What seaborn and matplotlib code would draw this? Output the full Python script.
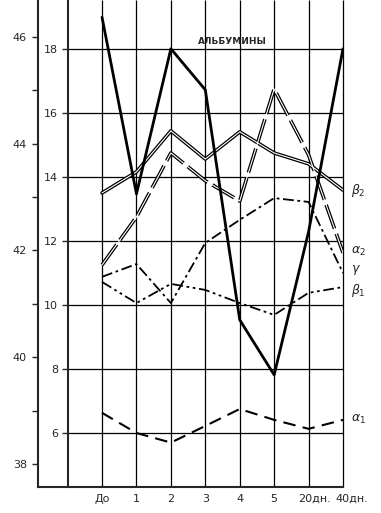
import numpy as np
import matplotlib
matplotlib.use("Agg")
import matplotlib.pyplot as plt
import matplotlib.transforms as mtransforms
import seaborn as sns

# ---- data ----
categories = ["До", "1", "2", "3", "4", "5", "20дн.", "40дн."]
albumin = [46.37, 43.06, 45.78, 45.01, 40.70, 39.67, 42.35, 45.78]   # outer (left) scale
beta2 = [13.50, 14.16, 15.44, 14.56, 15.41, 14.75, 14.41, 13.59]     # inner scale
alpha2 = [11.25, 12.75, 14.75, 13.88, 13.25, 16.75, 14.69, 11.63]
gamma = [10.88, 11.28, 10.06, 11.94, 12.66, 13.34, 13.22, 11.00]
beta1 = [10.72, 10.06, 10.66, 10.47, 10.06, 9.69, 10.38, 10.56]
alpha1 = [6.63, 6.00, 5.70, 6.22, 6.75, 6.41, 6.13, 6.41]
inner_ticks = [6, 8, 10, 12, 14, 16, 18]
outer_ticks = [38, 40, 42, 44, 46]
outer_minor = [39, 41, 43, 45]
series_labels = [r"$\beta_2$", r"$\alpha_2$", r"$\gamma$", r"$\beta_1$", r"$\alpha_1$"]
title = "АЛЬБУМИНЫ"

sns.set_style("white")
plt.rcParams["font.family"] = ["DejaVu Sans"]

W, H = 381, 513
fig = plt.figure(figsize=(W / 100, H / 100), dpi=100)
fig.patch.set_facecolor("white")
ax = fig.add_axes([38 / W, 26 / H, (343 - 38) / W, 487 / H])
ax.set_facecolor("white")

x = np.arange(len(categories))
inner_lo, inner_hi = 4.3125, 19.53
outer_lo, outer_hi = 37.569, 46.693
ax.set_xlim(-1.86, len(categories) - 1)
ax.set_ylim(inner_lo, inner_hi)

# grid
ax.hlines(inner_ticks, -1, len(categories) - 1, color="black", lw=0.9, zorder=1, clip_on=False)
ax.vlines(x, inner_lo, inner_hi, color="black", lw=0.9, zorder=1, clip_on=False)

# series on inner scale
sns.lineplot(x=x, y=beta2, ax=ax, color="black", lw=2.6, zorder=3)
sns.lineplot(x=x, y=beta2, ax=ax, color="white", lw=0.8, zorder=4)
sns.lineplot(x=x, y=alpha2, ax=ax, color="black", lw=2.6, linestyle=(0, (7, 1.5)), zorder=3)
sns.lineplot(x=x, y=alpha2, ax=ax, color="white", lw=0.8, zorder=4)
sns.lineplot(x=x, y=gamma, ax=ax, color="black", lw=1.3, linestyle=(0, (6, 2, 1.5, 2)), zorder=3)
sns.lineplot(x=x, y=beta1, ax=ax, color="black", lw=1.3, linestyle=(0, (6, 2, 1.5, 2, 1.5, 2)), zorder=3)
sns.lineplot(x=x, y=alpha1, ax=ax, color="black", lw=1.5, linestyle=(0, (6, 3.5)), zorder=3)

# series labels at right
label_nudge = [0, 1, 2.5, -2.5, 0]   # points, to keep neighbouring labels apart
for lab, vals, dy in zip(series_labels, [beta2, alpha2, gamma, beta1, alpha1], label_nudge):
    ax.annotate(lab, (len(categories) - 1, vals[-1]), xytext=(6, dy), textcoords="offset points",
                fontsize=9, ha="left", va="center", annotation_clip=False)

# inner axis
for s in ["top", "right"]:
    ax.spines[s].set_visible(False)
ax.spines["left"].set_position(("data", -1))
ax.spines["left"].set_linewidth(1.5)
ax.spines["bottom"].set_linewidth(1.5)
ax.set_yticks(inner_ticks)
ax.set_yticklabels([str(t) for t in inner_ticks])
ax.tick_params(axis="y", direction="out", length=4, width=1, pad=3, labelsize=8)
ax.set_xticks(x)
ax.set_xticklabels(categories)
ax.tick_params(axis="x", length=0, pad=5, labelsize=8)
ax.set_xlabel("")
ax.set_ylabel("")
# the two last labels sit a little to the right in the reference
for lbl, dx in zip(ax.get_xticklabels()[-2:], [6, 9]):
    lbl.set_transform(lbl.get_transform() + mtransforms.ScaledTranslation(dx / 100, 0, fig.dpi_scale_trans))

# outer scale (albumin)
ax2 = ax.twinx()
ax2.set_ylim(outer_lo, outer_hi)
sns.lineplot(x=x, y=albumin, ax=ax2, color="black", lw=2.0, zorder=5)
ax2.set_xlim(-1.86, len(categories) - 1)
ax2.yaxis.set_ticks_position("left")
ax2.yaxis.set_label_position("left")
for s in ["top", "right", "bottom"]:
    ax2.spines[s].set_visible(False)
ax2.spines["left"].set_visible(True)
ax2.spines["left"].set_linewidth(1.5)
ax2.set_yticks(outer_ticks)
ax2.set_yticklabels([str(t) for t in outer_ticks])
ax2.set_yticks(outer_minor, minor=True)
ax2.tick_params(axis="y", which="both", direction="out", length=4, width=1, pad=4, labelsize=8)
ax2.set_ylabel("")
ax2.set_xlabel("")

ax.text(3.78, 18.22, title, fontsize=6.5, fontweight="bold", ha="center", va="center")

fig.savefig("out.png", dpi=100, facecolor="white")
